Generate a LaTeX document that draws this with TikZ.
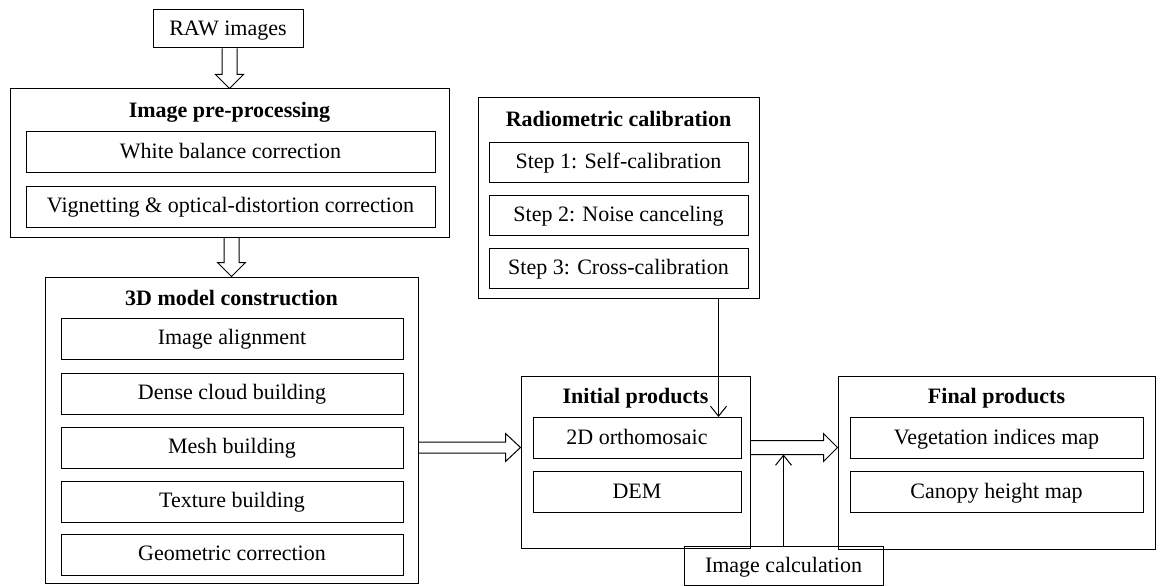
\documentclass[tikz,border=0pt]{standalone}
\usepackage{fontspec}
\setmainfont{Liberation Serif}
\usepackage{tikz}
\usetikzlibrary{arrows.meta,positioning,calc}
\tikzset{
  grp/.style     ={draw,line width=1pt,inner sep=0pt},
  ttl/.style     ={font=\fontsize{22}{26}\selectfont\bfseries,inner sep=0pt,anchor=base},
  stepbox/.style ={draw,line width=1pt,inner sep=0pt,minimum height=41pt,
                   text height=17pt,text depth=4.5pt},
  fatarr/.style  ={draw,line width=1pt,line join=miter},
  thinarr/.style ={-{Straight Barb[length=10pt,width=16pt]},line width=1pt},
}

\begin{document}
\begin{tikzpicture}[x=1pt,y=-1pt,font=\fontsize{22}{26}\selectfont]
\useasboundingbox (0,0) rectangle (1168,586);

% input
\node[stepbox,minimum width=150pt,minimum height=38pt] (raw) at (228,29) {RAW images};

% image pre-processing
\node[grp,minimum width=439pt,minimum height=148pt] (pre) at (229.5,163) {};
\node[ttl] at ($(pre.north)+(0,29)$) {Image pre-processing};
\node[stepbox,minimum width=409pt] (wb)  at (230.5,152)   {White balance correction};
\node[stepbox,minimum width=409pt] (vig) at (230.5,206.5) {Vignetting \& optical-distortion correction};

% 3D model construction
\node[grp,minimum width=373pt,minimum height=306pt] (model) at (231.5,430) {};
\node[ttl] at ($(model.north)+(0,29)$) {3D model construction};
\node[stepbox,minimum width=342pt] (align) at (232,338.5) {Image alignment};
\node[stepbox,minimum width=342pt] (dense) at (232,393.5) {Dense cloud building};
\node[stepbox,minimum width=342pt] (mesh)  at (232,447.5) {Mesh building};
\node[stepbox,minimum width=342pt] (tex)   at (232,501.5) {Texture building};
\node[stepbox,minimum width=342pt] (geo)   at (232,554.5) {Geometric correction};

% radiometric calibration
\node[grp,minimum width=281pt,minimum height=200pt] (radio) at (618.5,198) {};
\node[ttl] at ($(radio.north)+(0,29)$) {Radiometric calibration};
\node[stepbox,minimum width=259pt,minimum height=40pt] (s1) at (618.5,162) {Step 1: Self-calibration};
\node[stepbox,minimum width=259pt,minimum height=40pt] (s2) at (618.5,215) {Step 2: Noise canceling};
\node[stepbox,minimum width=259pt,minimum height=40pt] (s3) at (618.5,268) {Step 3: Cross-calibration};

% initial products
\node[grp,minimum width=229pt,minimum height=172pt] (init) at (635.5,462) {};
\node[ttl] at ($(init.north)+(0,28)$) {Initial products};
\node[stepbox,minimum width=208pt] (ortho) at (637,438) {2D orthomosaic};
\node[stepbox,minimum width=208pt] (dem)   at (637,492) {DEM};

% final products
\node[grp,minimum width=317pt,minimum height=173pt] (final) at (996.5,462.5) {};
\node[ttl] at ($(final.north)+(0,28)$) {Final products};
\node[stepbox,minimum width=293pt] (veg) at (996.5,438) {Vegetation indices map};
\node[stepbox,minimum width=293pt] (can) at (996.5,492) {Canopy height map};

\node[stepbox,minimum width=199pt,minimum height=39pt] (calc) at (783.5,566) {Image calculation};

% hollow arrows
\draw[fatarr] ($(pre.north |- raw.south)+(-7.5,0)$) -- ($(pre.north)+(-7.5,-14)$)
   -- ($(pre.north)+(-14,-14)$) -- (pre.north) -- ($(pre.north)+(14,-14)$)
   -- ($(pre.north)+(7.5,-14)$) -- ($(pre.north |- raw.south)+(7.5,0)$);
\draw[fatarr] ($(model.north |- pre.south)+(-7.5,0)$) -- ($(model.north)+(-7.5,-14)$)
   -- ($(model.north)+(-14,-14)$) -- (model.north) -- ($(model.north)+(14,-14)$)
   -- ($(model.north)+(7.5,-14)$) -- ($(model.north |- pre.south)+(7.5,0)$);
\draw[fatarr] ($(model.east |- mesh)+(0,-5.5)$) -- ($(init.west |- mesh)+(-15,-5.5)$)
   -- ($(init.west |- mesh)+(-15,-14)$) -- (init.west |- mesh) -- ($(init.west |- mesh)+(-15,14)$)
   -- ($(init.west |- mesh)+(-15,5.5)$) -- ($(model.east |- mesh)+(0,5.5)$);
\draw[fatarr] ($(init.east |- mesh)+(0,-7)$) -- ($(final.west |- mesh)+(-14,-7)$)
   -- ($(final.west |- mesh)+(-14,-14)$) -- (final.west |- mesh) -- ($(final.west |- mesh)+(-14,14)$)
   -- ($(final.west |- mesh)+(-14,7)$) -- ($(init.east |- mesh)+(0,7)$);

% thin arrows
\coordinate (rc) at ($(ortho.north east)+(-23,0)$);
\draw[thinarr] (radio.south -| rc) -- (rc);
\coordinate (fa) at ($(init.east |- mesh)+(0,7)$);
\draw[thinarr] (calc.north) -- (calc.north |- fa);

\end{tikzpicture}
\end{document}
